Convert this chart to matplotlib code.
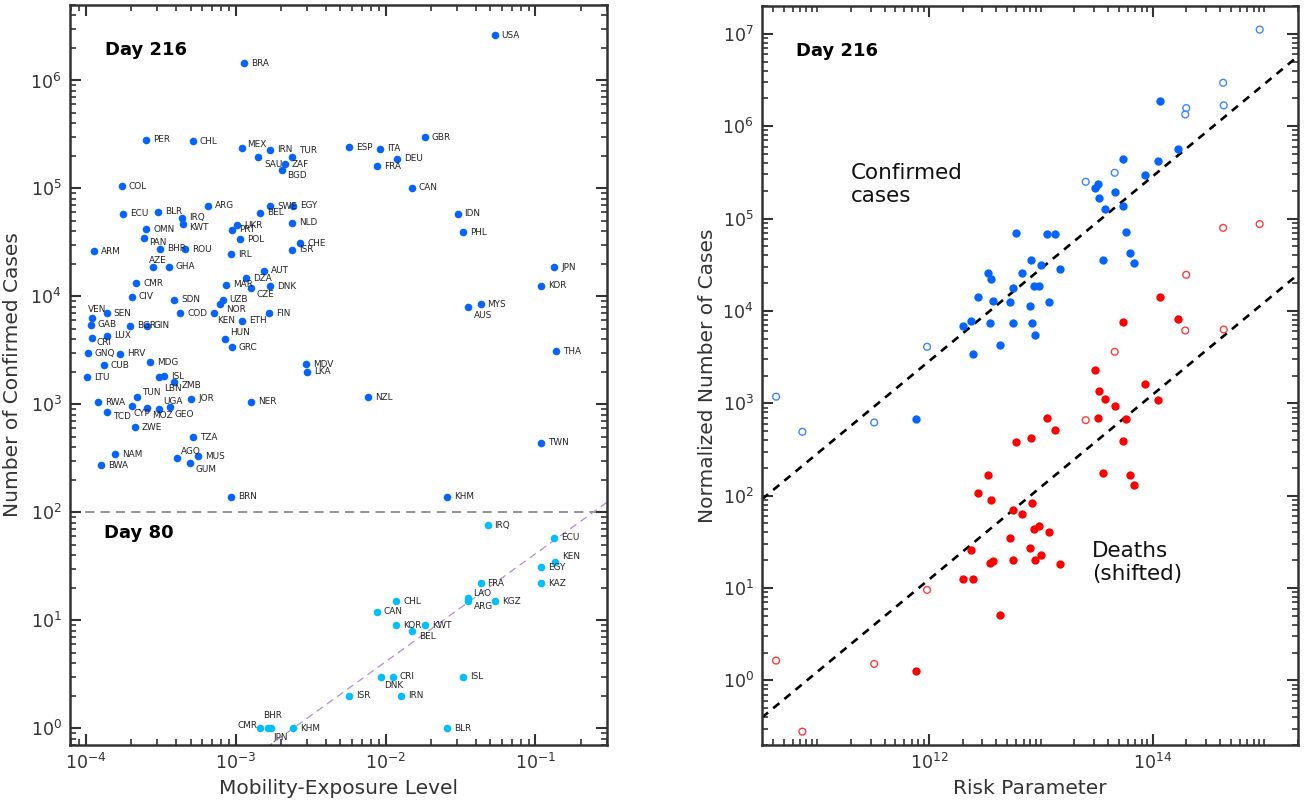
import numpy as np
import matplotlib
matplotlib.use("Agg")
import matplotlib.pyplot as plt
from matplotlib.ticker import LogLocator, FixedLocator, NullFormatter

# ---------------- left panel data ----------------
codes_216 = ["USA", "BRA", "PER", "CHL", "MEX", "IRN", "TUR", "SAU", "ZAF", "BGD",
             "COL", "ARG", "SWE", "EGY", "ECU", "BLR", "BEL", "IRQ", "KWT", "NLD",
             "UKR", "PRT", "OMN", "POL", "PAN", "CHE", "ISR", "ARM", "BHR", "ROU",
             "IRL", "GBR", "ESP", "ITA", "DEU", "FRA", "CAN", "IDN", "PHL", "AZE",
             "GHA", "AUT", "DZA", "MAR", "DNK", "CZE", "CMR", "CIV", "SDN", "UZB",
             "NOR", "VEN", "SEN", "COD", "KEN", "ETH", "FIN", "GAB", "BGR", "GIN",
             "LUX", "CRI", "HUN", "GRC", "GNQ", "HRV", "MDG", "CUB", "LTU", "LBN",
             "ISL", "ZMB", "TUN", "JOR", "RWA", "NER", "CYP", "MOZ", "UGA", "GEO",
             "TCD", "ZWE", "TZA", "NAM", "AGO", "MUS", "BWA", "GUM", "BRN", "MDV",
             "LKA", "JPN", "KOR", "MYS", "AUS", "THA", "NZL", "TWN", "KHM"]
mobility_216 = [0.0533, 1.135e-3, 2.54e-4, 5.19e-4, 1.107e-3, 1.69e-3, 2.37e-3, 1.42e-3, 2.15e-3, 2.04e-3,
                1.74e-4, 6.56e-4, 1.70e-3, 2.41e-3, 1.77e-4, 3.03e-4, 1.445e-3, 4.37e-4, 4.48e-4, 2.38e-3,
                1.026e-3, 9.44e-4, 2.54e-4, 1.07e-3, 2.46e-4, 2.69e-3, 2.38e-3, 1.13e-4, 3.14e-4, 4.59e-4,
                9.31e-4, 0.0182, 5.69e-3, 9.2e-3, 0.0119, 8.75e-3, 0.01496, 0.0302, 0.0329, 2.80e-4,
                3.57e-4, 1.55e-3, 1.18e-3, 8.65e-4, 1.69e-3, 1.27e-3, 2.17e-4, 2.03e-4, 3.90e-4, 8.18e-4,
                7.85e-4, 1.10e-4, 1.38e-4, 4.28e-4, 7.16e-4, 1.10e-3, 1.66e-3, 1.08e-4, 1.97e-4, 2.56e-4,
                1.38e-4, 1.10e-4, 8.53e-4, 9.40e-4, 1.03e-4, 1.69e-4, 2.67e-4, 1.32e-4, 1.02e-4, 3.07e-4,
                3.34e-4, 3.86e-4, 2.21e-4, 5.06e-4, 1.20e-4, 1.26e-3, 2.03e-4, 2.56e-4, 3.10e-4, 3.66e-4,
                1.38e-4, 2.12e-4, 5.19e-4, 1.56e-4, 4.05e-4, 5.63e-4, 1.26e-4, 4.98e-4, 9.27e-4, 2.93e-3,
                3.00e-3, 0.133, 0.1096, 0.043, 0.0352, 0.137, 7.62e-3, 0.1096, 0.0256]
cases_216 = [2.63e6, 1.45e6, 2.82e5, 2.75e5, 2.37e5, 2.27e5, 1.94e5, 1.94e5, 1.69e5, 1.49e5,
             1.05e5, 6.94e4, 6.85e4, 6.94e4, 5.82e4, 6.07e4, 5.94e4, 5.38e4, 4.73e4, 4.83e4,
             4.57e4, 4.14e4, 4.20e4, 3.40e4, 3.47e4, 3.12e4, 2.70e4, 2.62e4, 2.76e4, 2.72e4,
             2.47e4, 2.97e5, 2.40e5, 2.32e5, 1.88e5, 1.61e5, 1.02e5, 5.85e4, 3.91e4, 1.86e4,
             1.88e4, 1.73e4, 1.47e4, 1.28e4, 1.24e4, 1.19e4, 1.33e4, 9890, 9290, 9290,
             8530, 6330, 6980, 6980, 6980, 5980, 6980, 5460, 5340, 5340,
             4320, 4140, 4050, 3370, 2980, 2940, 2450, 2300, 1790, 1790,
             1830, 1610, 1160, 1130, 1050, 1060, 975, 926, 901, 940,
             845, 615, 497, 344, 318, 332, 272, 284, 139, 2350,
             2010, 1.86e4, 1.26e4, 8450, 8000, 3110, 1160, 440, 140]

codes_80 = ["IRQ", "ECU", "KEN", "EGY", "KAZ", "FRA", "LAO", "ARG", "KGZ", "CHL",
            "CAN", "KOR", "KWT", "BEL", "DNK", "CRI", "ISL", "ISR", "IRN", "CMR",
            "BHR", "JPN", "KHM", "BLR"]
mobility_80 = [0.0479, 0.133, 0.136, 0.1096, 0.1096, 0.043, 0.0357, 0.0354, 0.0536, 0.0118,
               8.71e-3, 0.0118, 0.01828, 0.01496, 9.27e-3, 0.0112, 0.0329, 5.69e-3, 0.0127, 1.45e-3,
               1.64e-3, 1.71e-3, 2.40e-3, 0.0258]
cases_80 = [76, 58, 35, 31, 22, 22, 16, 15, 15, 15,
            12, 9, 9, 8, 3, 3, 3, 2, 2, 1,
            1, 1, 1, 1]

fit_80 = 413.0  # cases ~ fit_80 * mobility

# ---------------- right panel data ----------------
risk_fill = [7.71e11, 2.02e12, 2.35e12, 2.47e12, 2.73e12, 3.35e12, 3.52e12, 3.60e12, 3.77e12, 4.32e12,
             5.29e12, 5.59e12, 5.68e12, 5.94e12, 6.73e12, 8.06e12, 8.17e12, 8.26e12, 8.62e12, 8.79e12,
             9.60e12, 1.01e13, 1.14e13, 1.18e13, 1.33e13, 1.47e13, 3.03e13, 3.26e13, 3.31e13, 3.58e13,
             3.73e13, 4.63e13, 5.40e13, 5.40e13, 5.78e13, 6.34e13, 6.81e13, 8.53e13, 1.11e14, 1.17e14,
             1.70e14]
conf_fill = [684, 6840, 7810, 3430, 1.41e4, 2.57e4, 7380, 2.21e4, 1.28e4, 4300,
             1.26e4, 7380, 1.77e4, 6.96e4, 2.57e4, 1.14e4, 3.57e4, 7380, 1.86e4, 5470,
             1.86e4, 3.16e4, 6.89e4, 1.26e4, 6.84e4, 2.84e4, 2.12e5, 2.39e5, 1.68e5, 3.55e4,
             1.28e5, 1.96e5, 4.40e5, 1.38e5, 7.24e4, 4.19e4, 3.32e4, 2.98e5, 4.15e5, 1.88e6,
             5.60e5]
death_fill = [1.28, 12.6, 25.7, 12.6, 108, 167, 18.9, 89.4, 19.8, 5.12,
              34.7, 20.2, 70.7, 383, 63.5, 27.4, 426, 84.2, 44, 20.2,
              47.5, 22.7, 696, 40.2, 512, 18.4, 2300, 701, 1360, 177,
              1120, 938, 389, 7620, 684, 169, 132, 1610, 1080, 1.43e4,
              8150]

risk_open = [4.28e10, 7.35e10, 3.23e11, 9.6e11, 2.52e13, 4.58e13, 1.96e14, 2.00e14, 4.28e14, 4.33e14,
             9.08e14]
conf_open = [1180, 491, 619, 4090, 2.50e5, 3.13e5, 1.34e6, 1.57e6, 2.95e6, 1.68e6,
             1.11e7]
death_open = [1.64, 0.279, 1.51, 9.55, 657, 3610, 6140, 2.46e4, 7.94e4, 6290,
              8.71e4]

fit_conf = 2.86e-9    # confirmed ~ fit_conf * risk
fit_death = 1.24e-11  # deaths (shifted) ~ fit_death * risk

# label offsets in pixels (dx to label's left edge, dy down), default is (7, 0)
offs_216 = {"MEX": (5, -3), "TUR": (7, -7), "SAU": (6, 7), "ZAF": (6, 1), "BGD": (5, 6),
            "KWT": (6, 4), "PAN": (5, 4), "AZE": (-4, -7), "CZE": (5, 6), "NOR": (6, 6),
            "KEN": (3, 7), "VEN": (-4, -8), "CRI": (5, 5), "HUN": (5, -6), "LBN": (5, 11),
            "ZMB": (8, 3), "TUN": (5, -5), "CYP": (2, 8), "MOZ": (5, 8), "UGA": (4, -8),
            "GEO": (4, 7), "TCD": (6, 4), "AGO": (4, -7), "GUM": (5, 6), "AUS": (6, 9)}
offs_80 = {"KEN": (7, -5), "LAO": (5, -5), "ARG": (6, 5), "DNK": (3, 9), "CMR": (-22, -3),
           "BHR": (-5, -13), "JPN": (3, 9), "BEL": (7, 6)}

blue = "#0564ff"
cyan = "#00bfff"
red = "#ff0000"
txt = "#333333"

plt.rcParams["font.family"] = ["DejaVu Sans"]

fig = plt.figure(figsize=(13.07, 8.06), dpi=100)
axL = fig.add_axes([70 / 1307, 61 / 806, 537 / 1307, 740 / 806])
axR = fig.add_axes([762 / 1307, 61 / 806, 536 / 1307, 739 / 806])


def style(ax):
    ax.set_xscale("log")
    ax.set_yscale("log")
    for s in ax.spines.values():
        s.set_linewidth(1.8)
        s.set_color("#333333")
    ax.tick_params(which="both", direction="in", top=True, right=True,
                   colors="#333333", labelsize=12.5, labelcolor=txt)
    ax.tick_params(which="major", length=8, width=1.5, pad=6)
    ax.tick_params(which="minor", length=4.5, width=1.2)


# ---------- left ----------
style(axL)
axL.set_xlim(7.85e-5, 0.3)
axL.set_ylim(0.7, 5e6)
axL.xaxis.set_major_locator(FixedLocator([1e-4, 1e-3, 1e-2, 1e-1]))
axL.yaxis.set_major_locator(FixedLocator([1e0, 1e1, 1e2, 1e3, 1e4, 1e5, 1e6]))
axL.yaxis.set_minor_locator(LogLocator(base=10, subs=np.arange(2, 10), numticks=100))
axL.xaxis.set_minor_locator(LogLocator(base=10, subs=np.arange(2, 10), numticks=100))
axL.yaxis.set_minor_formatter(NullFormatter())
axL.xaxis.set_minor_formatter(NullFormatter())

axL.axhline(100, color="#777777", lw=1.1, dashes=(6, 4), zorder=1)
xf = np.array([1e-3, 0.3])
axL.plot(xf, fit_80 * xf, color="#b58bd3", lw=0.9, dashes=(6, 4), zorder=1)

axL.scatter(mobility_216, cases_216, s=30, color=blue, lw=0, zorder=3)
axL.scatter(mobility_80, cases_80, s=30, color=cyan, lw=0, zorder=3)

for codes, xs, ys, offs in [(codes_216, mobility_216, cases_216, offs_216),
                            (codes_80, mobility_80, cases_80, offs_80)]:
    for c, x, y in zip(codes, xs, ys):
        dx, dy = offs.get(c, (7, 0))
        axL.annotate(c, (x, y), xytext=(dx * 0.72, -dy * 0.72), textcoords="offset points",
                     fontsize=6.4, ha="left", va="center", color="#222222", zorder=4)

axL.text(0.065, 0.939, "Day 216", transform=axL.transAxes, fontsize=13,
         fontweight="bold", va="center", ha="left")
axL.text(0.064, 0.287, "Day 80", transform=axL.transAxes, fontsize=13,
         fontweight="bold", va="center", ha="left")
axL.set_xlabel("Mobility-Exposure Level", fontsize=14.5, color=txt)
axL.set_ylabel("Number of Confirmed Cases", fontsize=14.5, color=txt, labelpad=6)

# ---------- right ----------
style(axR)
axR.set_xlim(3.2e10, 2e15)
axR.set_ylim(0.2, 2e7)
axR.xaxis.set_major_locator(FixedLocator([1e12, 1e14]))
axR.xaxis.set_minor_locator(LogLocator(base=10, subs=np.arange(1, 10), numticks=100))
axR.yaxis.set_major_locator(FixedLocator([1e0, 1e1, 1e2, 1e3, 1e4, 1e5, 1e6, 1e7]))
axR.yaxis.set_minor_locator(LogLocator(base=10, subs=np.arange(2, 10), numticks=100))
axR.xaxis.set_minor_formatter(NullFormatter())
axR.yaxis.set_minor_formatter(NullFormatter())

xr = np.array([3.2e10, 2e15])
axR.plot(xr, fit_conf * xr, color="black", lw=1.9, dashes=(3, 2.5), zorder=2)
axR.plot(xr, fit_death * xr, color="black", lw=1.9, dashes=(3, 2.5), zorder=2)

axR.scatter(risk_fill, conf_fill, s=36, color=blue, lw=0, zorder=3)
axR.scatter(risk_fill, death_fill, s=36, color=red, lw=0, zorder=3)
axR.scatter(risk_open, conf_open, s=24, facecolors="none", edgecolors="#3d85ff", lw=1.0, zorder=3)
axR.scatter(risk_open, death_open, s=24, facecolors="none", edgecolors="#ff3b3b", lw=1.0, zorder=3)

axR.text(0.063, 0.9395, "Day 216", transform=axR.transAxes, fontsize=13,
         fontweight="bold", va="center", ha="left")
axR.text(0.1655, 0.758, "Confirmed\ncases", transform=axR.transAxes, fontsize=15.5,
         va="center", ha="left", color="#111111")
axR.text(0.616, 0.247, "Deaths\n(shifted)", transform=axR.transAxes, fontsize=15.5,
         va="center", ha="left", color="#111111")
axR.set_xlabel("Risk Parameter", fontsize=14.5, color=txt)
axR.set_ylabel("Normalized Number of Cases", fontsize=14.5, color=txt)

fig.savefig("out.png", dpi=100)
